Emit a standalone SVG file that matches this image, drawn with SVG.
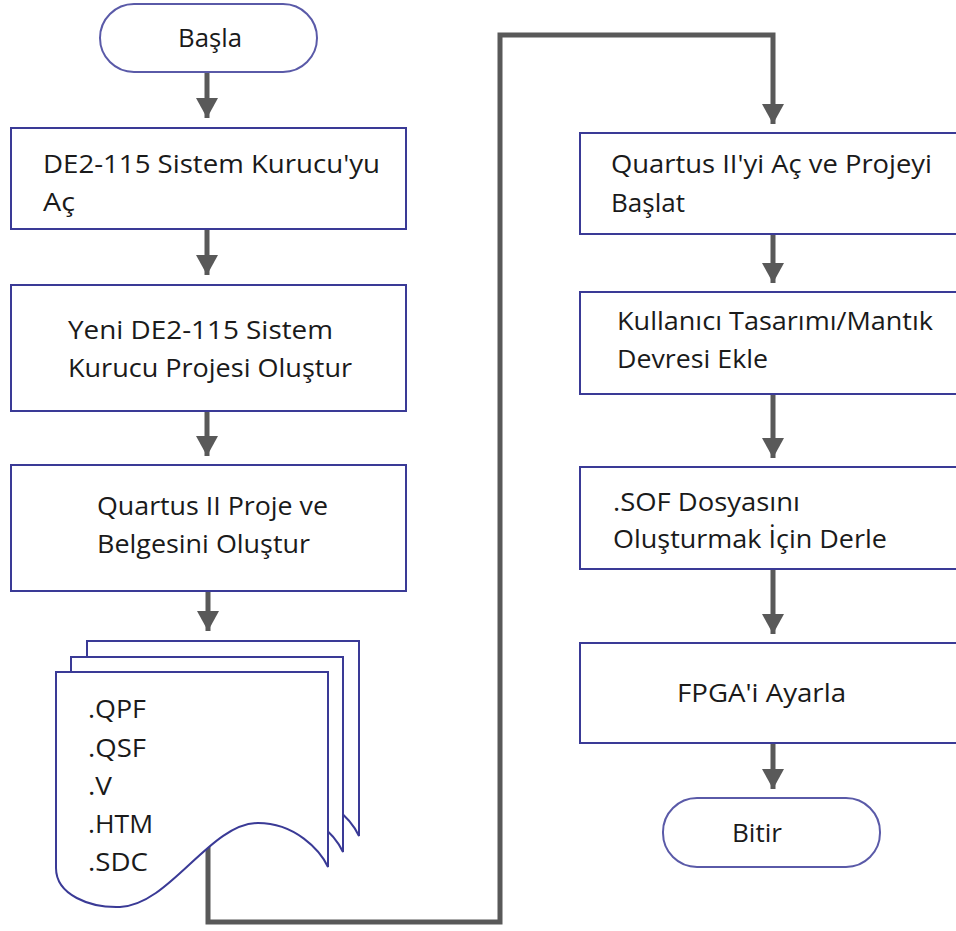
<svg xmlns="http://www.w3.org/2000/svg" xmlns:xlink="http://www.w3.org/1999/xlink" width="956" height="931" viewBox="0 0 956 931">
<style>
.box{fill:#fff;stroke:#3a3a96;stroke-width:2}
.term{fill:#fff;stroke:#5a5aa8;stroke-width:2}
.lbl{font-family:"Open Sans","Noto Sans",sans-serif;font-size:26px;fill:#1a1a1a}
.con{fill:none;stroke:#595959;stroke-width:5}
</style>
<defs>
<marker id="ah" viewBox="0 0 20 22" refX="20" refY="11" markerWidth="20" markerHeight="22" markerUnits="userSpaceOnUse" orient="auto">
<path d="M0,0 L20,11 L0,22 Z" fill="#595959"/>
</marker>
<path id="page" d="M56,672 H328 V867 C320,850 295,823 258,823 C210,823 170,905 120,907 C90,908 56,895 56,868 Z"/>
</defs>
<rect width="956" height="931" fill="#fff"/>
<g id="connectors">
<path class="con" d="M207,72 V118" marker-end="url(#ah)"/>
<path class="con" d="M207,229 V275" marker-end="url(#ah)"/>
<path class="con" d="M207,411 V456" marker-end="url(#ah)"/>
<path class="con" d="M208,591 V631" marker-end="url(#ah)"/>
<path class="con" d="M208,845 V922 H500 V35 H773 V124" marker-end="url(#ah)"/>
<path class="con" d="M773,234 V283" marker-end="url(#ah)"/>
<path class="con" d="M773,394 V458" marker-end="url(#ah)"/>
<path class="con" d="M773,569 V634" marker-end="url(#ah)"/>
<path class="con" d="M773,743 V789" marker-end="url(#ah)"/>
</g>
<g id="start">
<rect class="term" x="100" y="4" width="217" height="68" rx="34"/>
<text class="lbl" x="178" y="47" textLength="64" lengthAdjust="spacingAndGlyphs">Başla</text>
</g>
<g id="step1">
<rect class="box" x="11" y="128" width="395" height="101"/>
<text class="lbl" x="43" y="173" textLength="337" lengthAdjust="spacingAndGlyphs">DE2-115 Sistem Kurucu'yu</text>
<text class="lbl" x="43" y="211" textLength="32" lengthAdjust="spacingAndGlyphs">Aç</text>
</g>
<g id="step2">
<rect class="box" x="11" y="285" width="395" height="126"/>
<text class="lbl" x="68" y="339" textLength="265" lengthAdjust="spacingAndGlyphs">Yeni DE2-115 Sistem</text>
<text class="lbl" x="68" y="377" textLength="284" lengthAdjust="spacingAndGlyphs">Kurucu Projesi Oluştur</text>
</g>
<g id="step3">
<rect class="box" x="11" y="465" width="395" height="126"/>
<text class="lbl" x="97" y="515" textLength="231" lengthAdjust="spacingAndGlyphs">Quartus II Proje ve</text>
<text class="lbl" x="97" y="553" textLength="213" lengthAdjust="spacingAndGlyphs">Belgesini Oluştur</text>
</g>
<g id="files">
<use xlink:href="#page" href="#page" class="box" transform="translate(31,-31)"/>
<use xlink:href="#page" href="#page" class="box" transform="translate(15,-15)"/>
<use xlink:href="#page" href="#page" class="box"/>
<text class="lbl" x="88" y="718" textLength="58" lengthAdjust="spacingAndGlyphs">.QPF</text>
<text class="lbl" x="88" y="757" textLength="58" lengthAdjust="spacingAndGlyphs">.QSF</text>
<text class="lbl" x="88" y="795" textLength="24" lengthAdjust="spacingAndGlyphs">.V</text>
<text class="lbl" x="88" y="833" textLength="65" lengthAdjust="spacingAndGlyphs">.HTM</text>
<text class="lbl" x="88" y="871" textLength="60" lengthAdjust="spacingAndGlyphs">.SDC</text>
</g>
<g id="step4">
<rect class="box" x="580" y="133" width="395" height="101"/>
<text class="lbl" x="611" y="173" textLength="321" lengthAdjust="spacingAndGlyphs">Quartus II'yi Aç ve Projeyi</text>
<text class="lbl" x="611" y="212" textLength="74" lengthAdjust="spacingAndGlyphs">Başlat</text>
</g>
<g id="step5">
<rect class="box" x="580" y="292" width="395" height="102"/>
<text class="lbl" x="617" y="330" textLength="316" lengthAdjust="spacingAndGlyphs">Kullanıcı Tasarımı/Mantık</text>
<text class="lbl" x="617" y="368" textLength="151" lengthAdjust="spacingAndGlyphs">Devresi Ekle</text>
</g>
<g id="step6">
<rect class="box" x="580" y="467" width="395" height="102"/>
<text class="lbl" x="613" y="511" textLength="187" lengthAdjust="spacingAndGlyphs">.SOF Dosyasını</text>
<text class="lbl" x="613" y="548" textLength="274" lengthAdjust="spacingAndGlyphs">Oluşturmak İçin Derle</text>
</g>
<g id="step7">
<rect class="box" x="580" y="643" width="395" height="100"/>
<text class="lbl" x="677" y="702" textLength="169" lengthAdjust="spacingAndGlyphs">FPGA'i Ayarla</text>
</g>
<g id="end">
<rect class="term" x="663" y="798" width="217" height="69" rx="34"/>
<text class="lbl" x="732" y="842" textLength="50" lengthAdjust="spacingAndGlyphs">Bitir</text>
</g>
</svg>
